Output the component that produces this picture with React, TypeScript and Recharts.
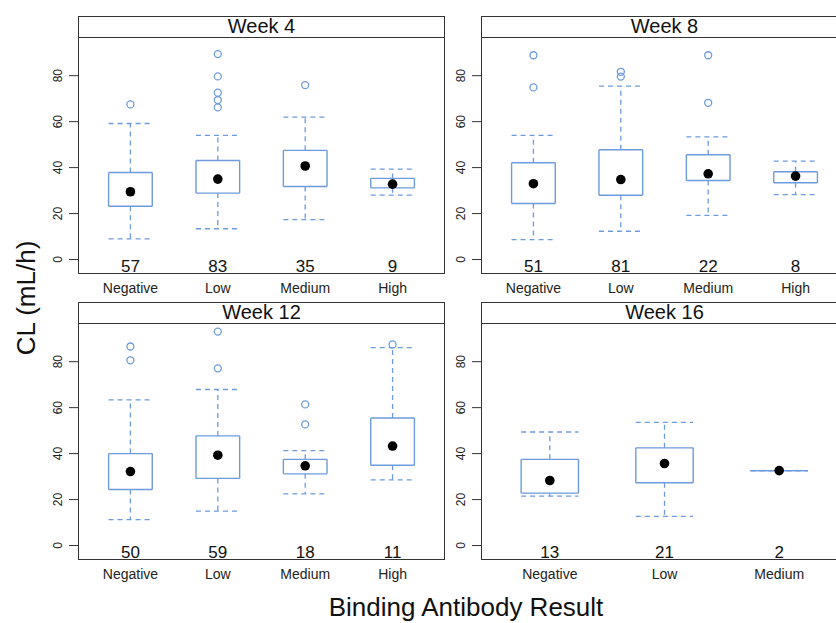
import React from 'react';
import {
  ComposedChart,
  XAxis,
  YAxis,
  Scatter,
  ReferenceLine,
} from 'recharts';

interface BoxRow {
  lo: number;
  q1: number;
  med: number;
  q3: number;
  hi: number;
  n: number;
  out: number[];
}

const CATEGORIES = ['Negative', 'Low', 'Medium', 'High'];
const Y_TICKS = [0, 20, 40, 60, 80];

// whisker low, Q1, median, Q3, whisker high, count, outliers
const WEEK4: BoxRow[] = [
  { lo: 9.0, q1: 23.2, med: 29.5, q3: 37.9, hi: 59.2, n: 57, out: [67.5] },
  { lo: 13.4, q1: 28.9, med: 35.0, q3: 43.1, hi: 54.0, n: 83, out: [66.2, 69.4, 72.6, 79.7, 89.4] },
  { lo: 17.4, q1: 31.8, med: 40.7, q3: 47.5, hi: 62.0, n: 35, out: [75.9] },
  { lo: 28.0, q1: 31.2, med: 32.8, q3: 35.3, hi: 39.3, n: 9, out: [] },
];

const WEEK8: BoxRow[] = [
  { lo: 8.7, q1: 24.4, med: 33.0, q3: 42.1, hi: 54.0, n: 51, out: [74.9, 88.9] },
  { lo: 12.3, q1: 28.0, med: 34.8, q3: 47.8, hi: 75.5, n: 81, out: [79.6, 81.7] },
  { lo: 19.2, q1: 34.4, med: 37.3, q3: 45.6, hi: 53.4, n: 22, out: [68.2, 88.9] },
  { lo: 28.2, q1: 33.4, med: 36.3, q3: 38.2, hi: 42.8, n: 8, out: [] },
];

const WEEK12: BoxRow[] = [
  { lo: 11.3, q1: 24.4, med: 32.2, q3: 40.0, hi: 63.4, n: 50, out: [80.6, 86.6] },
  { lo: 15.0, q1: 29.2, med: 39.3, q3: 47.7, hi: 67.9, n: 59, out: [77.1, 93.1] },
  { lo: 22.5, q1: 31.2, med: 34.7, q3: 37.5, hi: 41.3, n: 18, out: [52.7, 61.4] },
  { lo: 28.6, q1: 34.9, med: 43.3, q3: 55.5, hi: 86.1, n: 11, out: [87.5] },
];

const WEEK16: BoxRow[] = [
  { lo: 21.5, q1: 22.8, med: 28.3, q3: 37.5, hi: 49.4, n: 13, out: [] },
  { lo: 12.7, q1: 27.3, med: 35.7, q3: 42.5, hi: 53.6, n: 21, out: [] },
  { lo: 32.6, q1: 32.6, med: 32.6, q3: 32.6, hi: 32.6, n: 2, out: [] },
];

const BLUE = '#6E9BDC';
const INK = '#222';
const FONT = '"Liberation Sans", Arial, Helvetica, sans-serif';

const PLOT_W = 367;
const PLOT_H = 236;
const AXIS_W = 78;
const STRIP_H = 22;
const XAXIS_H = 36;
const Y_DOMAIN: [number, number] = [-6.3, 96.4];
const HALF = 0.25;

const YTick = (props: any) => {
  const { x, y, payload } = props;
  return (
    <text
      transform={`translate(${x - 3},${y}) rotate(-90)`}
      textAnchor="middle"
      fontSize={12}
      fill={INK}
      fontFamily={FONT}
    >
      {payload.value}
    </text>
  );
};

const Panel: React.FC<{ title: string; rows: BoxRow[]; left: number; top: number }> = ({
  title,
  rows,
  left,
  top,
}) => {
  const pts = rows.map((r, i) => ({ ...r, x: i + 1 }));
  const medians = pts.map((p) => ({ x: p.x, y: p.med }));
  const outliers = pts.flatMap((p) => p.out.map((v) => ({ x: p.x, y: v })));
  const counts = pts.map((p) => ({ x: p.x, y: 0, n: p.n }));
  const ticks = pts.map((p) => p.x);

  return (
    <div
      style={{
        position: 'absolute',
        left: left - AXIS_W,
        top,
        width: AXIS_W + PLOT_W,
        height: STRIP_H + PLOT_H + XAXIS_H,
      }}
    >
      <div
        style={{
          position: 'absolute',
          left: AXIS_W,
          top: 0,
          width: PLOT_W,
          height: STRIP_H,
          border: '1.5px solid #333',
          boxSizing: 'border-box',
          fontSize: 20,
          textAlign: 'center',
          lineHeight: `${STRIP_H - 3}px`,
          color: '#111',
        }}
      >
        {title}
      </div>
      <div style={{ position: 'absolute', left: 0, top: STRIP_H }}>
        <ComposedChart
          width={AXIS_W + PLOT_W}
          height={PLOT_H + XAXIS_H}
          margin={{ top: 0, right: 0, bottom: 0, left: 0 }}
        >
          <XAxis
            type="number"
            dataKey="x"
            domain={[0.4, rows.length + 0.6]}
            ticks={ticks}
            allowDataOverflow
            axisLine={false}
            tickLine={false}
            tickMargin={3}
            height={XAXIS_H}
            tickFormatter={(v: number) => CATEGORIES[v - 1]}
            tick={{ fontSize: 14, fill: INK, fontFamily: FONT }}
          />
          <YAxis
            type="number"
            dataKey="y"
            domain={Y_DOMAIN}
            ticks={Y_TICKS}
            allowDataOverflow
            width={AXIS_W}
            axisLine={false}
            tickSize={9}
            tickMargin={4}
            tickLine={{ stroke: '#333' }}
            tick={<YTick />}
          />
          {pts.map((p) => (
            <React.Fragment key={`box-${p.x}`}>
              <ReferenceLine
                segment={[{ x: p.x - HALF, y: p.q3 }, { x: p.x + HALF, y: p.q3 }]}
                stroke={BLUE}
                strokeWidth={1.4}
              />
              <ReferenceLine
                segment={[{ x: p.x - HALF, y: p.q1 }, { x: p.x + HALF, y: p.q1 }]}
                stroke={BLUE}
                strokeWidth={1.4}
              />
              <ReferenceLine
                segment={[{ x: p.x - HALF, y: p.q1 }, { x: p.x - HALF, y: p.q3 }]}
                stroke={BLUE}
                strokeWidth={1.4}
              />
              <ReferenceLine
                segment={[{ x: p.x + HALF, y: p.q1 }, { x: p.x + HALF, y: p.q3 }]}
                stroke={BLUE}
                strokeWidth={1.4}
              />
              <ReferenceLine
                segment={[{ x: p.x, y: p.q3 }, { x: p.x, y: p.hi }]}
                stroke={BLUE}
                strokeWidth={1.3}
                strokeDasharray="5 4"
              />
              <ReferenceLine
                segment={[{ x: p.x, y: p.q1 }, { x: p.x, y: p.lo }]}
                stroke={BLUE}
                strokeWidth={1.3}
                strokeDasharray="5 4"
              />
              <ReferenceLine
                segment={[{ x: p.x - HALF, y: p.hi }, { x: p.x + HALF, y: p.hi }]}
                stroke={BLUE}
                strokeWidth={1.3}
                strokeDasharray="5 4"
              />
              <ReferenceLine
                segment={[{ x: p.x - HALF, y: p.lo }, { x: p.x + HALF, y: p.lo }]}
                stroke={BLUE}
                strokeWidth={1.3}
                strokeDasharray="5 4"
              />
            </React.Fragment>
          ))}
          <Scatter
            data={outliers}
            isAnimationActive={false}
            shape={(s: any) => (
              <circle cx={s.cx} cy={s.cy} r={3.5} fill="none" stroke={BLUE} strokeWidth={1.3} />
            )}
          />
          <Scatter
            data={medians}
            isAnimationActive={false}
            shape={(s: any) => <circle cx={s.cx} cy={s.cy} r={4.8} fill="#000" />}
          />
          <Scatter
            data={counts}
            isAnimationActive={false}
            shape={(s: any) => (
              <text
                x={s.cx}
                y={s.cy + 12}
                textAnchor="middle"
                fontSize={17}
                fill="#111"
                fontFamily={FONT}
              >
                {s.payload.n}
              </text>
            )}
          />
        </ComposedChart>
      </div>
      <div
        style={{
          position: 'absolute',
          left: AXIS_W,
          top: STRIP_H - 1.5,
          width: PLOT_W,
          height: PLOT_H + 1.5,
          border: '1.5px solid #333',
          boxSizing: 'border-box',
          pointerEvents: 'none',
        }}
      />
    </div>
  );
};

const App: React.FC = () => (
  <div
    style={{
      position: 'absolute',
      left: 0,
      top: 0,
      width: 836,
      height: 623,
      overflow: 'hidden',
      background: '#fff',
      fontFamily: FONT,
    }}
  >
    <Panel title="Week 4" rows={WEEK4} left={78} top={16} />
    <Panel title="Week 8" rows={WEEK8} left={481} top={16} />
    <Panel title="Week 12" rows={WEEK12} left={78} top={302} />
    <Panel title="Week 16" rows={WEEK16} left={481} top={302} />
    <svg
      width={836}
      height={623}
      style={{ position: 'absolute', left: 0, top: 0, pointerEvents: 'none' }}
    >
      <text
        transform="translate(35,298) rotate(-90)"
        textAnchor="middle"
        fontSize={26}
        fill="#111"
        fontFamily={FONT}
      >
        CL (mL/h)
      </text>
      <text x={466} y={616} textAnchor="middle" fontSize={26} fill="#111" fontFamily={FONT}>
        Binding Antibody Result
      </text>
    </svg>
  </div>
);

export default App;
